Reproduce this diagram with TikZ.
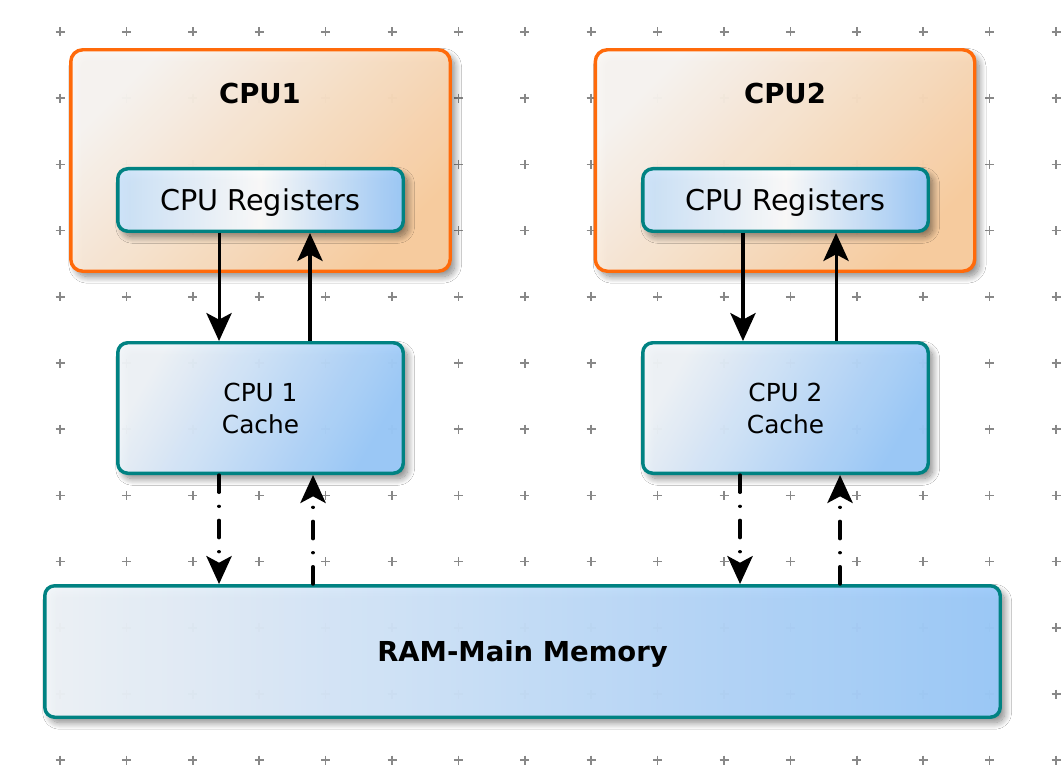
\documentclass[tikz,border=0pt]{standalone}
\usepackage{fontspec}
\setmainfont{DejaVu Sans}
\usetikzlibrary{arrows.meta,shadows.blur}

\definecolor{cpuorange}{HTML}{FF6A0A}
\definecolor{orlight}{HTML}{FBF8F5}
\definecolor{ordark}{HTML}{FDCFA0}
\definecolor{tealedge}{HTML}{008282}
\definecolor{bluelight}{HTML}{CCE4FC}
\definecolor{bluedark}{HTML}{9CCBFC}
\definecolor{cachelight}{HTML}{F2F6FA}
\definecolor{gridgray}{HTML}{888888}

\tikzset{
  gridmark/.style={draw=gridgray, line width=1.25pt},
  softshadow/.style={blur shadow={shadow xshift=3.5pt, shadow yshift=-4pt,
      shadow blur radius=5pt, shadow blur steps=14, shadow opacity=50}},
  boxbase/.style={inner sep=0pt, fill opacity=0.95, text opacity=1, softshadow},
  cpubox/.style={boxbase, draw=cpuorange, line width=2.6pt, rounded corners=9pt,
      left color=orlight, right color=ordark, shading angle=45,
      minimum width=284.6pt, minimum height=166.1pt},
  regbox/.style={boxbase, draw=tealedge, line width=2.6pt, rounded corners=7.5pt,
      left color=bluelight, right color=bluedark, middle color=white,
      minimum width=214.1pt, minimum height=46.9pt,
      text height=15.7pt, text depth=0pt,
      font=\fontsize{21.5}{26}\selectfont},
  cachebox/.style={boxbase, draw=tealedge, line width=2.6pt, rounded corners=7.5pt,
      left color=cachelight, right color=bluedark, shading angle=60,
      minimum width=214.1pt, minimum height=97.9pt, align=center,
      font=\fontsize{18.6}{24}\selectfont},
  rambox/.style={boxbase, draw=tealedge, line width=2.6pt, rounded corners=7.5pt,
      left color=cachelight, right color=bluedark,
      minimum width=716.6pt, minimum height=98.6pt,
      text height=15pt, text depth=0pt,
      font=\bfseries\fontsize{20.6}{24}\selectfont},
  titletext/.style={inner sep=0pt, font=\bfseries\fontsize{20.6}{24}\selectfont},
  flow/.style={line width=2.3pt, -{Stealth[length=21pt, width=19pt, inset=5pt]}},
  memflow/.style={flow, line width=2.5pt, line cap=round,
      dash pattern=on 13pt off 10.5pt on 0.01pt off 10.5pt},
}

\begin{document}
\begin{tikzpicture}[x=0.75pt, y=-0.75pt]
  \useasboundingbox (0,0) rectangle (1064,770);
  \fill[white] (0,0) rectangle (1064,770);

  % background grid of small crosses
  \foreach \i in {0,...,15} {
    \foreach \j in {0,...,11} {
      \draw[gridmark] ({60+66.4*\i-4.5},{32+66.2*\j}) -- ++(9,0)
                      ({60+66.4*\i},{32+66.2*\j-4.5}) -- ++(0,9);
    }
  }

  % processors
  \node[cpubox] (cpu1) at (260.5,160.5) {};
  \node[cpubox] (cpu2) at (785,160.5) {};
  \node[titletext] (cpu1title) at (260,94) {CPU1};
  \node[titletext] (cpu2title) at (785,94) {CPU2};

  \node[regbox] (reg1) at (260.5,200) {CPU Registers};
  \node[regbox] (reg2) at (785.5,200) {CPU Registers};

  % caches
  \node[cachebox] (cache1) at (260.5,408) {CPU 1\\Cache};
  \node[cachebox] (cache2) at (785.5,408) {CPU 2\\Cache};

  % main memory
  \node[rambox] (ram) at (522.5,651.5) {RAM-Main Memory};

  % register <-> cache traffic
  \draw[flow] ([xshift=-31.1pt]reg1.south) -- ([xshift=-31.1pt]cache1.north);
  \draw[flow] ([xshift=37.1pt]cache1.north) -- ([xshift=37.1pt]reg1.south);
  \draw[flow] ([xshift=-31.9pt]reg2.south) -- ([xshift=-31.9pt]cache2.north);
  \draw[flow] ([xshift=37.9pt]cache2.north) -- ([xshift=37.9pt]reg2.south);

  % cache <-> memory traffic
  \draw[memflow] ([xshift=-31.1pt]cache1.south) -- ([xshift=-31.1pt]cache1.south |- ram.north);
  \draw[memflow] ([xshift=39.4pt]cache1.south |- ram.north) -- ([xshift=39.4pt]cache1.south);
  \draw[memflow] ([xshift=-34.1pt]cache2.south) -- ([xshift=-34.1pt]cache2.south |- ram.north);
  \draw[memflow] ([xshift=40.9pt]cache2.south |- ram.north) -- ([xshift=40.9pt]cache2.south);
\end{tikzpicture}
\end{document}
